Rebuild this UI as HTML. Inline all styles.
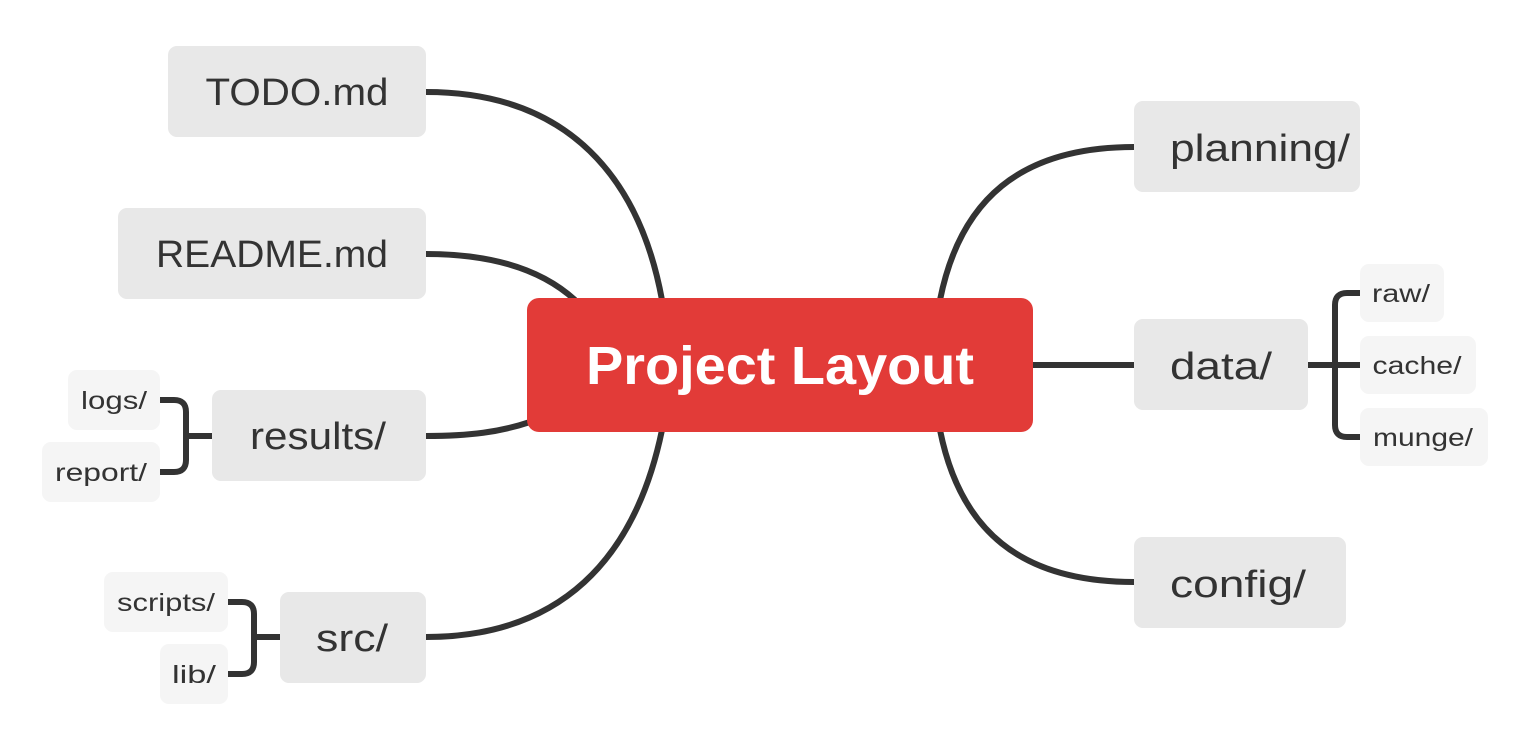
<!DOCTYPE html>
<html><head><meta charset="utf-8"><style>
html,body{margin:0;padding:0;background:#fff;}
svg{display:block;}
text{font-family:"Liberation Sans",sans-serif;fill:#333;}
</style></head><body>
<svg width="1522" height="732" viewBox="0 0 1522 732" xmlns="http://www.w3.org/2000/svg">
<g fill="none" stroke="#333" stroke-width="6" stroke-linecap="butt">
<path d="M426,92 C570,92 640,180 662,300"/>
<path d="M426,254 C490,254 540,268 575,300"/>
<path d="M426,436 C470,436 500,432 530,422"/>
<path d="M426,637 C560,637 635,560 662,430"/>
<path d="M1134,147 C1020,147 960,200 940,300"/>
<path d="M1033,365 L1134,365"/>
<path d="M1134,582 C1020,582 960,530 940,430"/>
<path d="M1308,365 L1360,365"/>
<path d="M1360,293 L1347,293 Q1335,293 1335,305 L1335,425 Q1335,437 1347,437 L1360,437"/>
<path d="M212,436 L186,436"/>
<path d="M160,400 L174,400 Q186,400 186,412 L186,460 Q186,472 174,472 L160,472"/>
<path d="M280,637 L254,637"/>
<path d="M228,602 L242,602 Q254,602 254,614 L254,662 Q254,674 242,674 L228,674"/>
</g>
<rect x="527" y="298" width="506" height="134" rx="12" fill="#e23b38"/>
<text x="780" y="384" text-anchor="middle" font-size="54" font-weight="bold" textLength="388" lengthAdjust="spacingAndGlyphs" style="fill:#fff">Project Layout</text>
<g font-size="38" text-anchor="middle">
<rect x="168" y="46" width="258" height="91" rx="9" fill="#e8e8e8"/>
<rect x="118" y="208" width="308" height="91" rx="9" fill="#e8e8e8"/>
<rect x="212" y="390" width="214" height="91" rx="9" fill="#e8e8e8"/>
<rect x="280" y="592" width="146" height="91" rx="9" fill="#e8e8e8"/>
<rect x="1134" y="101" width="226" height="91" rx="9" fill="#e8e8e8"/>
<rect x="1134" y="319" width="174" height="91" rx="9" fill="#e8e8e8"/>
<rect x="1134" y="537" width="212" height="91" rx="9" fill="#e8e8e8"/>
<text x="297" y="105" textLength="183" lengthAdjust="spacingAndGlyphs">TODO.md</text>
<text x="272" y="267" textLength="232" lengthAdjust="spacingAndGlyphs">README.md</text>
<text x="318" y="449" textLength="136" lengthAdjust="spacingAndGlyphs">results/</text>
<text x="352" y="651" textLength="72" lengthAdjust="spacingAndGlyphs">src/</text>
<text x="1260" y="161" textLength="180" lengthAdjust="spacingAndGlyphs">planning/</text>
<text x="1221" y="379" textLength="102" lengthAdjust="spacingAndGlyphs">data/</text>
<text x="1238" y="597" textLength="136" lengthAdjust="spacingAndGlyphs">config/</text>
</g>
<g fill="#f5f5f5">
<rect x="1360" y="264" width="84" height="58" rx="9"/>
<rect x="1360" y="336" width="116" height="58" rx="9"/>
<rect x="1360" y="408" width="128" height="58" rx="9"/>
<rect x="68" y="370" width="92" height="60" rx="9"/>
<rect x="42" y="442" width="118" height="60" rx="9"/>
<rect x="104" y="572" width="124" height="60" rx="9"/>
<rect x="160" y="644" width="68" height="60" rx="9"/>
</g>
<g font-size="25" text-anchor="middle">
<text x="1401" y="302" textLength="58" lengthAdjust="spacingAndGlyphs">raw/</text>
<text x="1417" y="374" textLength="89" lengthAdjust="spacingAndGlyphs">cache/</text>
<text x="1423" y="446" textLength="100" lengthAdjust="spacingAndGlyphs">munge/</text>
<text x="114" y="409" textLength="66" lengthAdjust="spacingAndGlyphs">logs/</text>
<text x="101" y="481" textLength="92" lengthAdjust="spacingAndGlyphs">report/</text>
<text x="166" y="611" textLength="98" lengthAdjust="spacingAndGlyphs">scripts/</text>
<text x="194" y="683" textLength="44" lengthAdjust="spacingAndGlyphs">lib/</text>
</g>
</svg>
</body></html>
